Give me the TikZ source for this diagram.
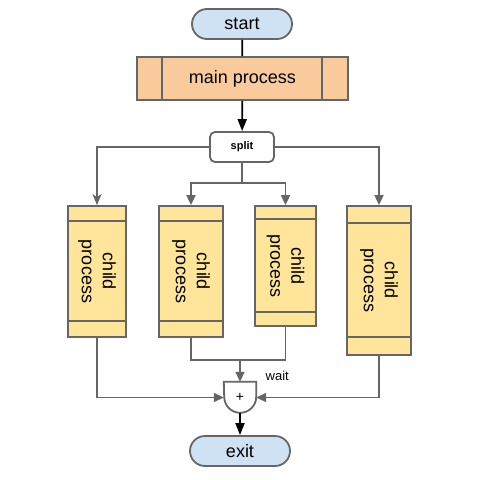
\documentclass[tikz,border=0pt]{standalone}
\usepackage{fontspec}
\setmainfont{Liberation Sans}
\usetikzlibrary{arrows.meta,calc}
\definecolor{pillblue}{HTML}{CFE2F3}
\definecolor{mainorange}{HTML}{F9CB9C}
\definecolor{childyellow}{HTML}{FFE599}
\definecolor{linegray}{HTML}{666666}
\tikzstyle{every node}=[font=\fontsize{18}{21}\selectfont]
\tikzstyle{terminal}=[draw=linegray, line width=1.8pt, fill=pillblue, rounded corners=15pt, minimum width=100pt, minimum height=30pt, inner sep=0pt]
\tikzstyle{childbox}=[draw=linegray, line width=1.8pt, fill=childyellow, inner sep=0pt]
\tikzstyle{band}=[linegray, line width=1.8pt]
\tikzstyle{flow}=[black, line width=1.8pt, -{Triangle[length=12pt,width=9pt]}]
\tikzstyle{branch}=[linegray, line width=1.8pt, -{Triangle[length=10pt,width=9pt]}]

\begin{document}
\begin{tikzpicture}[x=1pt,y=-1pt]
	\useasboundingbox[fill=white] (0,0) rectangle (480,480);
	\node[terminal] (start) at (242,24) {start};
	\node[draw=linegray, line width=1.8pt, fill=mainorange, minimum width=211pt, minimum height=43pt] (main) at (242.5,78.5) {main process};
	\draw[band] ($(main.north west)+(26,0)$) -- ($(main.south west)+(26,0)$); % left bar
	\draw[band] ($(main.north east)+(-27,0)$) -- ($(main.south east)+(-27,0)$); % right bar
	\node[draw=linegray, line width=1.8pt, fill=white, rounded corners=5pt, minimum width=64pt, minimum height=30pt, inner sep=0pt, font=\fontsize{11}{13}\selectfont\bfseries] (split) at (242,147) {split};
	\draw[black, line width=1.8pt] (start) -- (main);
	\draw[flow] (main) -- (split);
	% the four children
	\node[childbox, minimum width=58pt, minimum height=131pt] (c1) at (97,271.5) {};
	\node[childbox, minimum width=64pt, minimum height=131pt] (c2) at (191,271.5) {};
	\node[childbox, minimum width=61pt, minimum height=120pt] (c3) at (285.5,266) {};
	\node[childbox, minimum width=64pt, minimum height=149pt] (c4) at (379,280.5) {};
	\draw[band] ($(c1.north west)+(0,16)$) -- ($(c1.north east)+(0,16)$) ($(c1.south west)+(0,-17)$) -- ($(c1.south east)+(0,-17)$);
	\draw[band] ($(c2.north west)+(0,16)$) -- ($(c2.north east)+(0,16)$) ($(c2.south west)+(0,-17)$) -- ($(c2.south east)+(0,-17)$);
	\draw[band] ($(c3.north west)+(0,14)$) -- ($(c3.north east)+(0,14)$) ($(c3.south west)+(0,-15)$) -- ($(c3.south east)+(0,-15)$);
	\draw[band] ($(c4.north west)+(0,18)$) -- ($(c4.north east)+(0,18)$) ($(c4.south west)+(0,-19)$) -- ($(c4.south east)+(0,-19)$);
	\node[rotate=-90, align=center] (t1) at (c1.center) {child\\process};
	\node[rotate=-90, align=center] (t2) at (c2.center) {child\\process};
	\node[rotate=-90, align=center] (t3) at (c3.center) {child\\process};
	\node[rotate=-90, align=center] (t4) at (c4.center) {child\\process};
	% fan out
	\coordinate (fork) at (242,183);
	\draw[linegray, line width=1.8pt, -{Stealth[length=11pt,width=9pt,inset=3pt]}] (split.west) -| (c1.north);
	\draw[branch] (split.east) -| (c4.north);
	\draw[band] (split.south) -- (fork);
	\draw[branch] (fork) -| (c2.north);
	\draw[branch] (fork) -| (c3.north);
	% join
	\node[minimum width=32pt, minimum height=31pt, inner sep=0pt] (wait) at (240,397.5) {};
	\draw[linegray, line width=1.8pt, fill=white] (wait.north west) -- (wait.north east) -- ($(wait.north east)+(0,15)$) arc (0:180:16) -- cycle; % wait gate
	\node[font=\fontsize{14}{16}\selectfont] (plus) at (wait.center) {+};
	\node[anchor=south west, font=\fontsize{13}{15}\selectfont, xshift=6pt, yshift=-2pt] (waitlabel) at (wait.north east) {wait};
	\coordinate (join) at (240,360);
	\draw[band] (c2.south) |- (join) -| (c3.south);
	\draw[branch] (join) -- (wait.north);
	\draw[branch] (c1.south) |- (wait.west);
	\draw[branch] (c4.south) |- (wait.east);
	\node[terminal] (exit) at (240,451) {exit};
	\draw[flow] (wait.south) -- (exit);
\end{tikzpicture}
\end{document}
